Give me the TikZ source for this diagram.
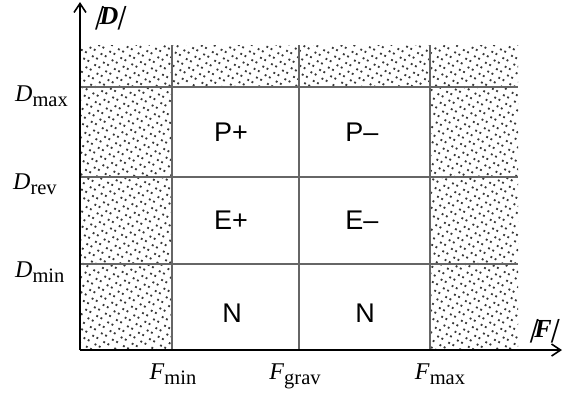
\documentclass[tikz,border=0pt]{standalone}
\usepackage{fontspec}
\setmainfont{Liberation Serif}
\setsansfont{Liberation Sans}
\newfontfamily\barslant[FakeSlant=0.3]{Liberation Serif Bold}
\usetikzlibrary{patterns.meta,arrows.meta}
\newcommand\axlbl[2]{{\fontsize{24}{24}\selectfont\textit{#1}}\raisebox{-5pt}{\fontsize{20.5}{20.5}\selectfont #2}}
\newcommand\absv[1]{{\fontsize{26}{26}\selectfont{\barslant |}\kern-1pt\textbf{\textit{#1}}\kern-1pt{\barslant |}}}
\tikzset{
  gridline/.style={draw=black!60, line width=1.4pt},
  axisline/.style={draw=black, line width=2.4pt, -{Straight Barb[length=9pt,width=12pt,line width=1.6pt]}},
  zoneA/.style={pattern={Dots[radius=1.3pt,distance=9pt,angle=15]}, pattern color=black!78},
  zoneB/.style={pattern={Dots[radius=1.3pt,distance=9pt,angle=15,xshift=4.5pt,yshift=4.5pt]}, pattern color=black!78},
  cell/.style={font=\sffamily\fontsize{27}{27}\selectfont, inner sep=0pt},
  lbl/.style={inner sep=0pt, anchor=base},
}
\begin{document}
\begin{tikzpicture}[x=1pt,y=-1pt]
\useasboundingbox (0,0) rectangle (563,392);
% patterned zones
\foreach \z in {zoneA,zoneB}{
  \fill[\z] (80,45) rectangle (518,87);
  \fill[\z] (80,87) rectangle (172,350);
  \fill[\z] (430,87) rectangle (518,350);
}
% grid
\coordinate (h1a) at (80,87);  \coordinate (h1b) at (518,87);
\coordinate (h2a) at (80,177); \coordinate (h2b) at (518,177);
\coordinate (h3a) at (80,264); \coordinate (h3b) at (518,264);
\coordinate (v1a) at (172,45); \coordinate (v1b) at (172,350);
\coordinate (v2a) at (299,45); \coordinate (v2b) at (299,350);
\coordinate (v3a) at (430,45); \coordinate (v3b) at (430,350);
\draw[gridline] (h1a) -- (h1b);
\draw[gridline] (h2a) -- (h2b);
\draw[gridline] (h3a) -- (h3b);
\draw[gridline] (v1a) -- (v1b);
\draw[gridline] (v2a) -- (v2b);
\draw[gridline] (v3a) -- (v3b);
% axes
\coordinate (o) at (80,350);
\coordinate (ytip) at (80,2);
\coordinate (xtip) at (562,350);
\draw[axisline] (o) -- (ytip);
\draw[axisline] (o) -- (xtip);
% axis labels
\node[lbl] (ylab) at (109,24) {\absv{D}};
\node[lbl] (xlab) at (543,337) {\absv{F}};
\node[lbl, anchor=base west] (dmax) at (15,101) {\axlbl{D}{max}};
\node[lbl, anchor=base west] (drev) at (13,189) {\axlbl{D}{rev}};
\node[lbl, anchor=base west] (dmin) at (15,277) {\axlbl{D}{min}};
\node[lbl] (fmin) at (173,379) {\axlbl{F}{min}};
\node[lbl] (fgrav) at (295,379) {\axlbl{F}{grav}};
\node[lbl] (fmax) at (440,379) {\axlbl{F}{max}};
% cell labels
\node[cell] (pp) at (231,132) {P+};
\node[cell] (pm) at (362,132) {P--};
\node[cell] (ep) at (231,220) {E+};
\node[cell] (em) at (362,220) {E--};
\node[cell] (n1) at (232,313) {N};
\node[cell] (n2) at (365,313) {N};
\end{tikzpicture}
\end{document}
